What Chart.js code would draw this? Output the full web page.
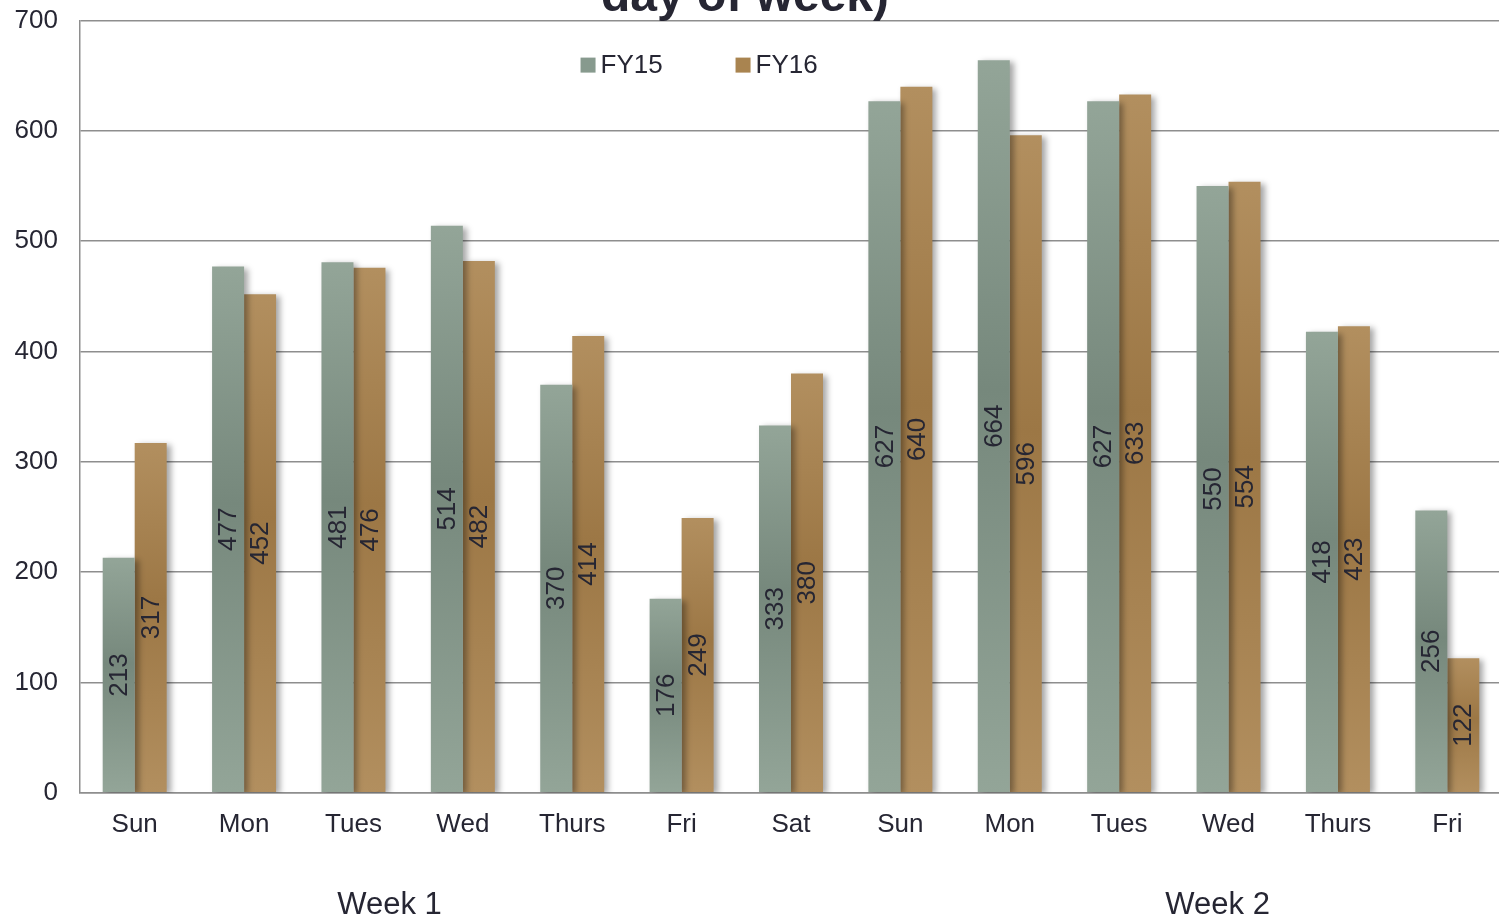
<!DOCTYPE html>
<html>
<head>
<meta charset="utf-8">
<script src="https://cdn.jsdelivr.net/npm/chart.js@4/dist/chart.umd.min.js"></script>
<style>
  html, body { margin: 0; padding: 0; background: #fff; overflow: hidden; }
  #wrap { width: 1499px; height: 918px; overflow: hidden; }
  #myChart { display: block; margin-top: -17px; }
</style>
</head>
<body>
<div id="wrap"><canvas id="myChart" width="1503" height="935"></canvas></div>
<script>
const days = ['Sun', 'Mon', 'Tues', 'Wed', 'Thurs', 'Fri', 'Sat', 'Sun', 'Mon', 'Tues', 'Wed', 'Thurs', 'Fri']
const weeks = ['Week 1', 'Week 2']
const fy15 = [213, 477, 481, 514, 370, 176, 333, 627, 664, 627, 550, 418, 256]
const fy16 = [317, 452, 476, 482, 414, 249, 380, 640, 596, 633, 554, 423, 122]
const yTicks = [0, 100, 200, 300, 400, 500, 600, 700]

const FONT = '"Liberation Sans", Arial, sans-serif'
const TEXT = '#262633'

// light at top and bottom, darker band in the middle (Excel-ish gradient)
function barFill(light, dark) {
  return (c) => {
    const chart = c.chart
    if (!chart.chartArea || c.type !== 'data' || !c.parsed) return light
    const y = chart.scales.y
    const top = y.getPixelForValue(c.parsed.y)
    const bottom = y.getPixelForValue(0)
    if (!isFinite(top) || bottom - top < 2) return light
    const g = chart.ctx.createLinearGradient(0, top, 0, bottom)
    g.addColorStop(0, light)
    g.addColorStop(0.45, dark)
    g.addColorStop(1, light)
    return g
  }
}

const extras = {
  id: 'extras',
  beforeDatasetsDraw(chart) {
    const ctx = chart.ctx
    ctx.save()
    ctx.shadowColor = 'rgba(0,0,0,0.35)'
    ctx.shadowOffsetX = 4
    ctx.shadowOffsetY = 2
    ctx.shadowBlur = 6
  },
  afterDatasetsDraw(chart) {
    const ctx = chart.ctx
    ctx.restore()
    const area = chart.chartArea

    // values, rotated, in the middle of each bar
    ctx.save()
    ctx.font = '26px ' + FONT
    ctx.fillStyle = TEXT
    ctx.textAlign = 'center'
    ctx.textBaseline = 'middle'
    chart.data.datasets.forEach((ds, i) => {
      chart.getDatasetMeta(i).data.forEach((bar, j) => {
        ctx.save()
        ctx.translate(bar.x, (bar.y + bar.base) / 2)
        ctx.rotate(-Math.PI / 2)
        ctx.fillText(String(ds.data[j]), 0, 1)
        ctx.restore()
      })
    })
    ctx.restore()

    // legend inside the plot
    ctx.save()
    ctx.font = '26px ' + FONT
    ctx.textBaseline = 'middle'
    ctx.textAlign = 'left'
    let lx = area.left + area.width * 0.352
    const ly = area.top + 44
    chart.data.datasets.forEach((ds) => {
      ctx.fillStyle = ds.swatch
      ctx.fillRect(lx, ly - 7, 15, 15)
      ctx.fillStyle = TEXT
      ctx.fillText(ds.label, lx + 20, ly + 1)
      lx += 155
    })
    ctx.restore()
  },
  afterDraw(chart) {
    const ctx = chart.ctx
    const x = chart.scales.x
    const top = chart.chartArea.top
    ctx.save()
    // title, cut off by the top edge
    ctx.font = 'bold 48px ' + FONT
    ctx.fillStyle = TEXT
    ctx.textAlign = 'center'
    ctx.textBaseline = 'alphabetic'
    ctx.fillText('day of week)', 745, top - 10)
    // week group labels
    ctx.font = '31px ' + FONT
    ctx.textBaseline = 'middle'
    const wy = chart.chartArea.bottom + 113
    ctx.fillText(weeks[0], x.getPixelForValue(2.33), wy)
    ctx.fillText(weeks[1], x.getPixelForValue(9.9), wy)
    ctx.restore()
  }
}

new Chart(document.getElementById('myChart'), {
  type: 'bar',
  data: {
    labels: days,
    datasets: [
      {
        label: 'FY15',
        data: fy15,
        backgroundColor: barFill('#93a598', '#76887c'),
        swatch: '#879a8e',
        categoryPercentage: 0.585,
        barPercentage: 1
      },
      {
        label: 'FY16',
        data: fy16,
        backgroundColor: barFill('#b28f5f', '#9c7745'),
        swatch: '#a98450',
        categoryPercentage: 0.585,
        barPercentage: 1
      }
    ]
  },
  plugins: [extras],
  options: {
    responsive: false,
    animation: false,
    layout: { padding: { top: 4, left: 15, right: 1, bottom: 62 } },
    plugins: {
      legend: { display: false },
      title: { display: false },
      tooltip: { enabled: false }
    },
    scales: {
      x: {
        grid: { display: false, drawTicks: false },
        border: { color: '#8e8e8e', width: 1.5 },
        ticks: { color: TEXT, font: { family: FONT, size: 26 }, padding: 16, autoSkip: false, maxRotation: 0 }
      },
      y: {
        min: 0,
        max: 700,
        afterBuildTicks: (s) => { s.ticks = yTicks.map((v) => ({ value: v })) },
        afterFit: (s) => { s.width = 65 },
        grid: { color: '#8e8e8e', lineWidth: 1.5, drawTicks: false },
        border: { color: '#8e8e8e', width: 1.5 },
        ticks: { color: TEXT, font: { family: FONT, size: 26 }, padding: 22 }
      }
    }
  }
})
</script>
</body>
</html>
